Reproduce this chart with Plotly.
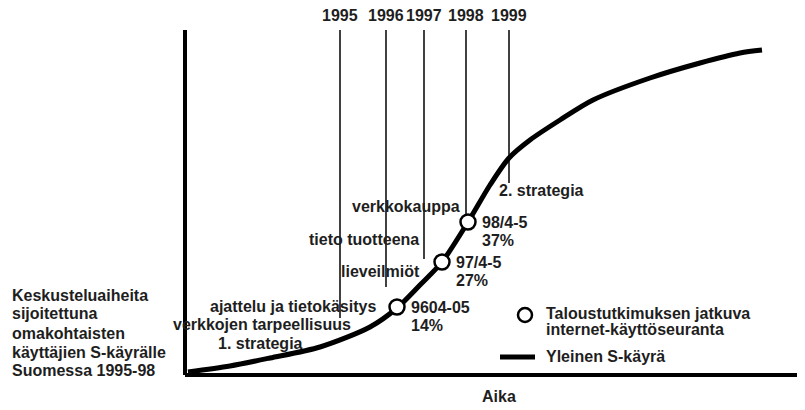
import plotly.graph_objects as go

# --- data (abstract units: time on x, adoption on y) ---
curve_x = [3, 45, 85, 135, 185, 212, 235, 257, 283, 305, 324, 345, 375, 408, 465, 515, 555, 577]
curve_y = [3, 9, 17, 28, 48, 67, 90, 113, 153, 190, 217, 235, 255, 275, 297, 312, 322, 325]

survey_x = [212, 257, 283]
survey_y = [68, 113, 153]
survey_labels = ["9604-05", "97/4-5", "98/4-5"]
survey_pct = ["14%", "27%", "37%"]

years = ["1995", "1996", "1997", "1998", "1999"]
year_x = [155, 201, 239, 281, 324]
year_bottom = [57, 88, 116, 153, 192]
year_top = 345

topics = ["verkkokauppa", "tieto tuotteena", "lieveilmiöt", "ajattelu ja tietokäsitys",
          "verkkojen tarpeellisuus", "1. strategia"]
topic_x = [221, 179, 195, 108, 77, 75]
topic_y = [169, 136, 104, 69, 51, 32]

left_title = ["Keskusteluaiheita", "sijoitettuna", "omakohtaisten",
              "käyttäjien S-käyrälle", "Suomessa 1995-98"]
left_title_y = [80, 62, 42, 23, 5]

legend_survey = ["Taloustutkimuksen jatkuva", "internet-käyttöseuranta"]
legend_curve = "Yleinen S-käyrä"
strategy2 = "2. strategia"
x_title = "Aika"

axis_x_end = 620
axis_y_end = 345

FONT = "Arial, Liberation Sans, sans-serif"
TXT = "#1e1e1e"
FS = 16

fig = go.Figure()

# axes
fig.add_trace(go.Scatter(x=[0, 0, None, 0, axis_x_end], y=[axis_y_end, 0, None, 0, 0],
                         mode="lines", line=dict(color="black", width=4),
                         hoverinfo="skip", showlegend=False, cliponaxis=False))

# year lines
lx, ly = [], []
for x, b in zip(year_x, year_bottom):
    lx += [x, x, None]
    ly += [year_top, b, None]
fig.add_trace(go.Scatter(x=lx, y=ly, mode="lines", line=dict(color="#111", width=1.6),
                         hoverinfo="skip", showlegend=False, cliponaxis=False))

# S-curve
fig.add_trace(go.Scatter(x=curve_x, y=curve_y, mode="lines",
                         line=dict(color="black", width=5, shape="spline", smoothing=0.8),
                         showlegend=False, cliponaxis=False))

# survey points
fig.add_trace(go.Scatter(x=survey_x, y=survey_y, mode="markers",
                         marker=dict(symbol="circle", size=15, color="white",
                                     line=dict(color="black", width=2.5)),
                         showlegend=False, cliponaxis=False))

# legend marks (drawn)
fig.add_trace(go.Scatter(x=[340], y=[60], mode="markers",
                         marker=dict(symbol="circle", size=14, color="white",
                                     line=dict(color="black", width=2.5)),
                         showlegend=False, cliponaxis=False))
fig.add_trace(go.Scatter(x=[315, 350], y=[18, 18], mode="lines",
                         line=dict(color="black", width=5),
                         showlegend=False, cliponaxis=False))

ann = []
def A(text, x, y, xanchor="center", size=FS):
    ann.append(dict(text=text, x=x, y=y, xref="x", yref="y", showarrow=False,
                    xanchor=xanchor, yanchor="middle",
                    font=dict(family=FONT, size=size, color=TXT, weight="bold")))

for t, x in zip(years, year_x):
    A(t, x, 360)
for t, x, y in zip(topics, topic_x, topic_y):
    A(t, x, y)
for lab, pct, x, y in zip(survey_labels, survey_pct, survey_x, survey_y):
    A(lab, x + 12, y, xanchor="left")
    A(pct, x + 12, y - 18, xanchor="left")
A(strategy2, 312, 185, xanchor="left")
for t, y in zip(left_title, left_title_y):
    A(t, -175, y, xanchor="left")
A(legend_survey[0], 359, 62, xanchor="left")
A(legend_survey[1], 359, 46, xanchor="left")
A(legend_curve, 359, 19, xanchor="left")
A(x_title, 314, -21)

# page has an 8px body margin: figure covers reference pixels 8..805 / 8..410
fig.update_layout(
    width=797, height=402,
    margin=dict(l=0, r=0, t=0, b=0),
    paper_bgcolor="white", plot_bgcolor="white",
    showlegend=False,
    annotations=ann,
    xaxis=dict(range=[-177, 620], visible=False, fixedrange=True),
    yaxis=dict(range=[-35, 367], visible=False, fixedrange=True),
)

fig.write_html("out.html")
